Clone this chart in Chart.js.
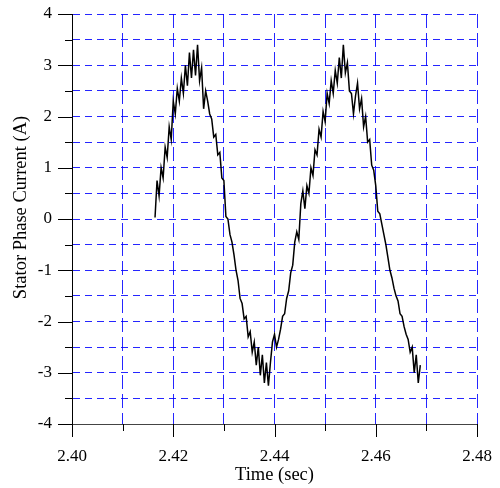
<!DOCTYPE html>
<html><head><meta charset="utf-8">
<script src="https://cdn.jsdelivr.net/npm/chart.js@4/dist/chart.umd.min.js"></script>
<style>html,body{margin:0;padding:0;background:#fff}</style>
</head><body>
<canvas id="c" width="500" height="488"></canvas>
<script>
const times = [
2.4164,2.4168,2.4172,2.4176,2.4180,2.4184,2.4188,2.4192,2.4196,2.4200,
2.4204,2.4208,2.4212,2.4216,2.4220,2.4224,2.4228,2.4232,2.4236,2.4240,
2.4244,2.4248,2.4252,2.4256,2.4260,2.4264,2.4268,2.4272,2.4276,2.4280,
2.4284,2.4288,2.4292,2.4296,2.4300,2.4304,2.4308,2.4312,2.4316,2.4320,
2.4324,2.4328,2.4332,2.4336,2.4340,2.4344,2.4348,2.4352,2.4356,2.4360,
2.4364,2.4368,2.4372,2.4376,2.4380,2.4384,2.4388,2.4392,2.4396,2.4400,
2.4404,2.4408,2.4412,2.4416,2.4420,2.4424,2.4428,2.4432,2.4436,2.4440,
2.4444,2.4448,2.4452,2.4456,2.4460,2.4464,2.4468,2.4472,2.4476,2.4480,
2.4484,2.4488,2.4492,2.4496,2.4500,2.4504,2.4508,2.4512,2.4516,2.4520,
2.4524,2.4528,2.4532,2.4536,2.4540,2.4544,2.4548,2.4552,2.4556,2.4560,
2.4564,2.4568,2.4572,2.4576,2.4580,2.4584,2.4588,2.4592,2.4596,2.4600,
2.4604,2.4608,2.4612,2.4616,2.4620,2.4624,2.4628,2.4632,2.4636,2.4640,
2.4644,2.4648,2.4652,2.4656,2.4660,2.4664,2.4668,2.4672,2.4676,2.4680,
2.4684,2.4688
];
const current = [
0.03,0.75,0.45,1.0,0.8,1.4,1.2,1.8,1.55,2.3,
2.05,2.55,2.3,2.75,2.45,3.0,2.6,3.25,2.75,3.3,
2.8,3.4,2.7,2.95,2.15,2.5,2.3,2.05,1.95,1.6,
1.65,1.25,1.3,0.8,0.75,0.05,0.0,-0.3,-0.45,-0.7,
-1.0,-1.2,-1.55,-1.65,-1.95,-1.9,-2.3,-2.2,-2.6,-2.4,
-2.85,-2.5,-3.05,-2.65,-3.2,-2.8,-3.25,-2.8,-2.4,-2.25,
-2.5,-2.35,-2.15,-1.9,-1.85,-1.55,-1.4,-1.05,-0.9,-0.45,
-0.25,-0.4,0.3,0.55,0.2,0.65,0.5,1.0,0.85,1.35,
1.25,1.75,1.6,2.1,1.9,2.45,2.25,2.7,2.45,2.9,
2.65,3.15,2.75,3.4,2.85,3.05,2.5,2.45,2.05,2.4,
2.65,2.15,2.35,1.8,2.0,1.5,1.55,1.05,0.95,0.65,
0.15,0.1,-0.1,-0.3,-0.5,-0.75,-1.0,-1.15,-1.35,-1.5,
-1.6,-1.85,-1.9,-2.1,-2.25,-2.35,-2.6,-2.5,-3.0,-2.65,
-3.2,-2.85
];
const xTickLabels = ['2.40','2.42','2.44','2.46','2.48'];
const yTickLabels = ['-4','-3','-2','-1','0','1','2','3','4'];
const xTitle = 'Time (sec)';
const yTitle = '\u00A0\u00A0\u00A0\u00A0\u00A0Stator Phase Current (A)';

const FONT = '"Liberation Serif", "Times New Roman", serif';
const points = times.map((t, i) => ({x: t, y: current[i]}));

const tickMarks = {
  id: 'tickMarks',
  afterDraw(chart) {
    const {ctx, chartArea: a, scales: {x, y}} = chart;
    ctx.save();
    ctx.strokeStyle = '#000';
    ctx.lineWidth = 1;
    ctx.beginPath();
    y.ticks.forEach(t => {
      const py = Math.round(y.getPixelForValue(t.value)) + 0.5;
      const major = Math.abs(t.value - Math.round(t.value)) < 1e-6;
      const len = major ? 14 : 7;
      ctx.moveTo(a.left - len, py);
      ctx.lineTo(a.left, py);
    });
    x.ticks.forEach(t => {
      const px = Math.round(x.getPixelForValue(t.value)) + 0.5;
      const major = xTickLabels.includes(t.value.toFixed(2));
      const len = major ? 13 : 7;
      ctx.moveTo(px, a.bottom);
      ctx.lineTo(px, a.bottom + len);
    });
    ctx.stroke();
    ctx.restore();
  }
};

function noPad(s) { s.paddingTop = 0; s.paddingBottom = 0; s.paddingLeft = 0; s.paddingRight = 0; }

new Chart(document.getElementById('c'), {
  type: 'line',
  data: {
    datasets: [{
      data: points,
      borderColor: '#000',
      borderWidth: 1.5,
      pointRadius: 0,
      tension: 0,
      fill: false
    }]
  },
  options: {
    responsive: false,
    animation: false,
    devicePixelRatio: 1,
    layout: {padding: {left: 0, top: 14, right: 23, bottom: 0}},
    plugins: {legend: {display: false}, tooltip: {enabled: false}},
    scales: {
      x: {
        type: 'linear', min: 2.40, max: 2.48,
        ticks: {
          stepSize: 0.01, autoSkip: false, maxRotation: 0, padding: 22,
          color: '#000', font: {family: FONT, size: 17},
          callback: v => { const s = Number(v).toFixed(2); return xTickLabels.includes(s) ? s : ''; }
        },
        grid: {color: 'rgba(0,0,255,0.85)', lineWidth: 1, drawTicks: false},
        border: {display: true, color: '#444', width: 1, dash: [14, 5]},
        title: {display: true, text: xTitle, color: '#000', padding: 0, font: {family: FONT, size: 18.5, lineHeight: 1.4}},
        afterFit(s) { s.height = 64; noPad(s); }
      },
      y: {
        type: 'linear', min: -4, max: 4,
        ticks: {
          stepSize: 0.5, autoSkip: false, padding: 20,
          color: '#000', font: {family: FONT, size: 17},
          callback: v => { const s = String(Math.round(v)); return (Math.abs(v - Math.round(v)) < 1e-6 && yTickLabels.includes(s)) ? s : ''; }
        },
        grid: {color: 'rgba(0,0,255,0.85)', lineWidth: 1, drawTicks: false},
        border: {display: true, color: '#000', width: 1, dash: [7, 5]},
        title: {display: true, text: yTitle, color: '#000', padding: 0, font: {family: FONT, size: 18.5, lineHeight: 2.27}},
        afterFit(s) { s.width = 72; noPad(s); }
      }
    }
  },
  plugins: [tickMarks]
});
</script>
</body></html>
